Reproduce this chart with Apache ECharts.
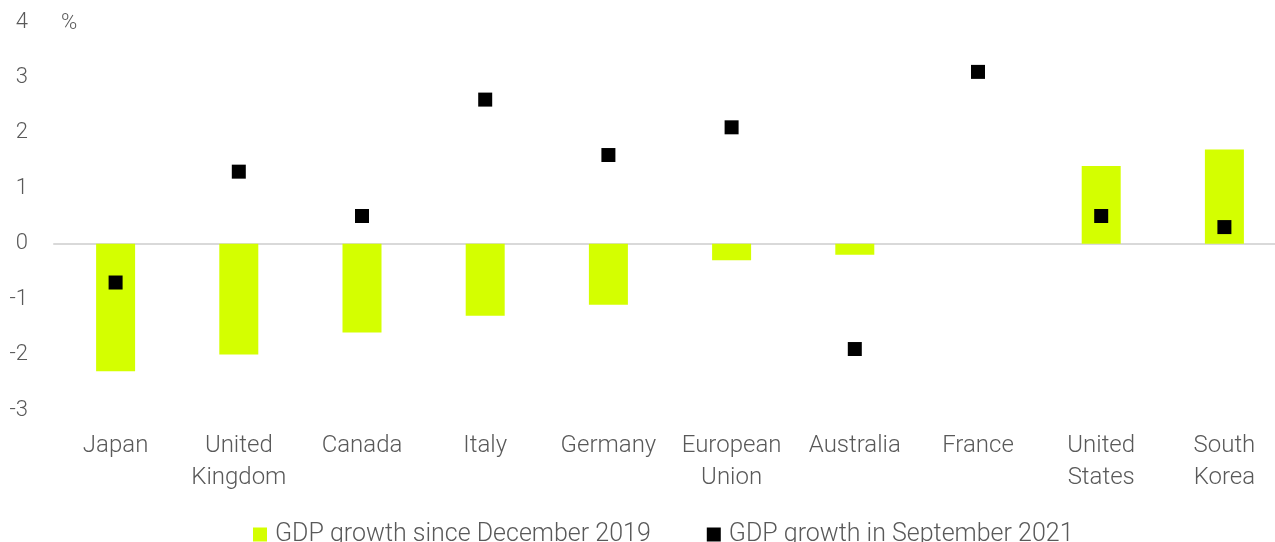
<!DOCTYPE html>
<html>
<head>
<meta charset="utf-8">
<script src="https://cdn.jsdelivr.net/npm/echarts@6/dist/echarts.min.js"></script>
<style>
  html, body { margin: 0; padding: 0; background: #fff; }
  #chart { width: 1275px; height: 542px; }
</style>
</head>
<body>
<div id="chart"></div>
<script>
// Country labels along the category axis
const countries = ['Japan', 'United\nKingdom', 'Canada', 'Italy', 'Germany', 'European\nUnion', 'Australia', 'France', 'United\nStates', 'South\nKorea'];
// GDP growth since December 2019 (%)
const sinceDec2019 = [-2.3, -2.0, -1.6, -1.3, -1.1, -0.3, -0.2, 0, 1.4, 1.7];
// GDP growth in September 2021 (%)
const inSep2021 = [-0.7, 1.3, 0.5, 2.6, 1.6, 2.1, -1.9, 3.1, 0.5, 0.3];
const yTicks = { min: -3, max: 4, interval: 1 };

const textColor = '#595959';
const fontFamily = 'Roboto, "Open Sans", sans-serif';

const chart = echarts.init(document.getElementById('chart'));
chart.setOption({
  animation: false,
  textStyle: { fontFamily: fontFamily, fontWeight: 300 },
  grid: { left: 54, top: 22, width: 1232, height: 388, outerBoundsMode: 'none', containLabel: false },
  graphic: [{
    type: 'text', left: 61, top: 12,
    style: { text: '%', fill: textColor, fontSize: 22, fontFamily: fontFamily, fontWeight: 300 }
  }],
  legend: {
    top: 517, left: 248, itemWidth: 14, itemHeight: 14, itemGap: 56,
    icon: 'rect',
    textStyle: { color: textColor, fontSize: 25, fontFamily: fontFamily, fontWeight: 300, padding: [0, 0, 0, 3] },
    data: ['GDP growth since December 2019', 'GDP growth in September 2021']
  },
  xAxis: {
    type: 'category', data: countries,
    axisLine: { onZero: true, lineStyle: { color: '#d9d9d9', width: 2 } },
    axisTick: { show: false },
    axisLabel: { color: textColor, fontSize: 24, lineHeight: 32, margin: 20, interval: 0,
                 fontFamily: fontFamily, fontWeight: 300 },
    splitLine: { show: false }
  },
  yAxis: {
    type: 'value', min: yTicks.min, max: yTicks.max, interval: yTicks.interval,
    axisLine: { show: false }, axisTick: { show: false }, splitLine: { show: false },
    axisLabel: { color: textColor, fontSize: 22, margin: 26, fontFamily: fontFamily, fontWeight: 300 }
  },
  series: [
    {
      name: 'GDP growth since December 2019', type: 'bar', data: sinceDec2019,
      barWidth: 39, itemStyle: { color: '#d4ff00' }
    },
    {
      name: 'GDP growth in September 2021', type: 'scatter', data: inSep2021,
      symbol: 'rect', symbolSize: 14, itemStyle: { color: '#000', opacity: 1 }
    }
  ]
});
</script>
</body>
</html>
